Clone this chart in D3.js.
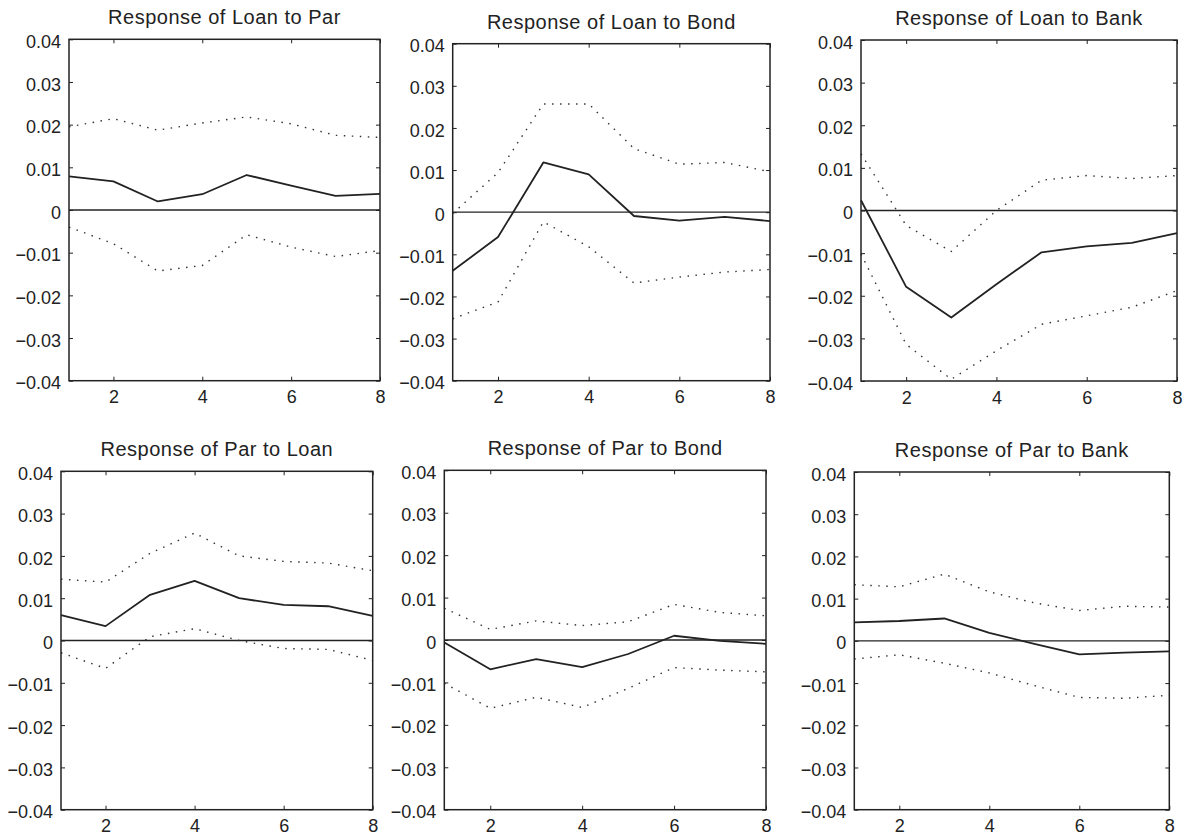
<!DOCTYPE html>
<html>
<head>
<meta charset="utf-8">
<script src="https://cdn.jsdelivr.net/npm/d3@7"></script>
<style>
  body { margin: 0; background: #fff; }
  svg { display: block; font-family: "Liberation Sans", Arial, sans-serif; }
</style>
</head>
<body>
<div id="chart"></div>
<script>
// horizon and tick labels
var periods = [1, 2, 3, 4, 5, 6, 7, 8];
var xTicks = [2, 4, 6, 8];
var yTicks = [-0.04, -0.03, -0.02, -0.01, 0, 0.01, 0.02, 0.03, 0.04];

var titles = ["Response of Loan to Par", "Response of Loan to Bond", "Response of Loan to Bank",
              "Response of Par to Loan", "Response of Par to Bond", "Response of Par to Bank"];

// impulse responses (solid) and the two error bands (dotted)
var loanPar   = [0.0079, 0.0067, 0.0020, 0.0037, 0.0082, 0.0057, 0.0033, 0.0038];
var loanParHi = [0.0195, 0.0214, 0.0187, 0.0204, 0.0218, 0.0202, 0.0175, 0.0170];
var loanParLo = [-0.0040, -0.0079, -0.0143, -0.0130, -0.0058, -0.0087, -0.0109, -0.0095];

var loanBond   = [-0.0139, -0.0059, 0.0118, 0.0090, -0.0009, -0.0020, -0.0011, -0.0021];
var loanBondHi = [-0.0003, 0.0094, 0.0257, 0.0257, 0.0151, 0.0114, 0.0118, 0.0096];
var loanBondLo = [-0.0253, -0.0213, -0.0023, -0.0082, -0.0168, -0.0154, -0.0142, -0.0136];

var loanBank   = [0.0024, -0.0179, -0.0251, -0.0173, -0.0098, -0.0084, -0.0076, -0.0053];
var loanBankHi = [0.0133, -0.0035, -0.0096, 0.0000, 0.0071, 0.0082, 0.0075, 0.0082];
var loanBankLo = [-0.0102, -0.0314, -0.0396, -0.0329, -0.0267, -0.0247, -0.0227, -0.0188];

var parLoan   = [0.0060, 0.0034, 0.0108, 0.0141, 0.0100, 0.0084, 0.0081, 0.0058];
var parLoanHi = [0.0145, 0.0138, 0.0206, 0.0254, 0.0200, 0.0187, 0.0183, 0.0165];
var parLoanLo = [-0.0029, -0.0066, 0.0009, 0.0028, 0.0000, -0.0019, -0.0021, -0.0047];

var parBond   = [-0.0006, -0.0069, -0.0045, -0.0064, -0.0033, 0.0010, -0.0002, -0.0009];
var parBondHi = [0.0075, 0.0025, 0.0045, 0.0034, 0.0043, 0.0084, 0.0065, 0.0057];
var parBondLo = [-0.0102, -0.0161, -0.0135, -0.0159, -0.0114, -0.0065, -0.0071, -0.0075];

var parBank   = [0.0044, 0.0047, 0.0053, 0.0019, -0.0007, -0.0032, -0.0028, -0.0025];
var parBankHi = [0.0133, 0.0128, 0.0158, 0.0116, 0.0090, 0.0072, 0.0082, 0.0080];
var parBankLo = [-0.0043, -0.0033, -0.0053, -0.0076, -0.0106, -0.0134, -0.0136, -0.0129];

var responses = [loanPar, loanBond, loanBank, parLoan, parBond, parBank];
var uppers = [loanParHi, loanBondHi, loanBankHi, parLoanHi, parBondHi, parBankHi];
var lowers = [loanParLo, loanBondLo, loanBankLo, parLoanLo, parBondLo, parBankLo];

// panel boxes [left, top, right, bottom]
var boxes = [
  [69, 39.3, 380, 380.7], [452.7, 43.7, 770, 380.7], [861, 40, 1177, 381],
  [61, 471.3, 372.7, 809.7], [444.3, 470.3, 766, 809.7], [854.3, 472, 1169.3, 809.7]
];

var width = 1186, height = 833;
var ink = "#222";

var svg = d3.select("#chart").append("svg")
    .attr("width", width).attr("height", height);

var fmt = function(d) { return d === 0 ? "0" : d3.format(".2f")(d); };

boxes.forEach(function(b, i) {
  var x = d3.scaleLinear().domain([1, 8]).range([b[0], b[2]]);
  var y = d3.scaleLinear().domain([-0.04, 0.04]).range([b[3], b[1]]);
  var g = svg.append("g");

  // axes: labelled left/bottom, bare ticks on top/right
  var left = g.append("g").attr("transform", "translate(" + b[0] + ",0)")
      .call(d3.axisLeft(y).tickValues(yTicks).tickFormat(fmt).tickSize(-4).tickPadding(8));
  var bottom = g.append("g").attr("transform", "translate(0," + b[3] + ")")
      .call(d3.axisBottom(x).tickValues(xTicks).tickFormat(d3.format("d")).tickSize(-4).tickPadding(10));
  var right = g.append("g").attr("transform", "translate(" + b[2] + ",0)")
      .call(d3.axisRight(y).tickValues(yTicks).tickFormat("").tickSize(-4));
  var top = g.append("g").attr("transform", "translate(0," + b[1] + ")")
      .call(d3.axisTop(x).tickValues(xTicks).tickFormat("").tickSize(-4));

  [left, bottom, right, top].forEach(function(a) {
    a.select(".domain").remove();
    a.selectAll("line").attr("stroke", ink).attr("stroke-width", 1);
    a.selectAll("text").attr("fill", ink).style("font-size", "18px")
      .style("font-family", "'Liberation Sans', Arial, sans-serif");
  });
  bottom.selectAll("text").attr("dy", "0.71em");
  left.selectAll("text").attr("dy", "0.45em");

  // zero line
  g.append("line")
    .attr("x1", b[0]).attr("x2", b[2])
    .attr("y1", y(0)).attr("y2", y(0))
    .attr("stroke", ink).attr("stroke-width", 1.3);

  var line = d3.line()
    .x(function(d, j) { return x(periods[j]); })
    .y(function(d) { return y(d); });

  [uppers[i], lowers[i]].forEach(function(s) {
    g.append("path").datum(s)
      .attr("d", line)
      .attr("fill", "none")
      .attr("stroke", "#333")
      .attr("stroke-width", 1.4)
      .attr("stroke-dasharray", "1.5 6.5");
  });

  g.append("path").datum(responses[i])
    .attr("d", line)
    .attr("fill", "none")
    .attr("stroke", ink)
    .attr("stroke-width", 1.8)
    .attr("stroke-linejoin", "round");

  // frame
  g.append("rect")
    .attr("x", b[0]).attr("y", b[1])
    .attr("width", b[2] - b[0]).attr("height", b[3] - b[1])
    .attr("fill", "none").attr("stroke", ink).attr("stroke-width", 1.5);

  g.append("text")
    .attr("x", (b[0] + b[2]) / 2)
    .attr("y", b[1] - 15)
    .attr("text-anchor", "middle")
    .attr("fill", ink)
    .style("font-size", "20px")
    .style("letter-spacing", "0.5px")
    .text(titles[i]);
});
</script>
</body>
</html>
